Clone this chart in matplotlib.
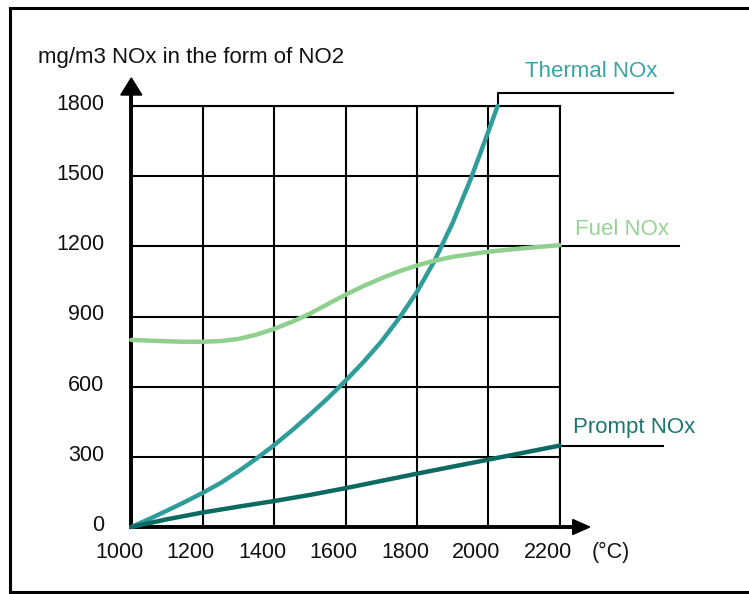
import matplotlib
matplotlib.use('Agg')
import matplotlib.pyplot as plt
import matplotlib.transforms as mtransforms
from matplotlib.lines import Line2D
from matplotlib.patches import Polygon

plt.rcParams['font.family'] = ['Liberation Sans', 'DejaVu Sans']

# ---------------- data ----------------
thermal_temps = [1000, 1050, 1100, 1150, 1200, 1250, 1300, 1350, 1400, 1450, 1500, 1550, 1600,
                 1650, 1700, 1750, 1800, 1850, 1900, 1950, 2000, 2026]
thermal_nox = [0, 34, 70, 107, 146, 188, 238, 292, 350, 413, 480, 550, 625,
               705, 792, 892, 1005, 1140, 1300, 1485, 1690, 1800]

fuel_temps = [1000, 1100, 1150, 1200, 1250, 1300, 1350, 1400, 1450, 1500, 1550, 1600, 1650, 1700,
              1750, 1800, 1850, 1900, 2000, 2100, 2200]
fuel_nox = [800, 794, 792, 792, 795, 804, 822, 847, 877, 912, 953, 993, 1030, 1063,
            1093, 1118, 1139, 1155, 1177, 1192, 1205]

prompt_temps = [1000, 1100, 1200, 1300, 1400, 1500, 1600, 1700, 1800, 1900, 2000, 2100, 2200]
prompt_nox = [0, 33, 62, 87, 111, 137, 166, 197, 228, 258, 288, 318, 348]

x_ticks = [1000, 1200, 1400, 1600, 1800, 2000, 2200]
x_labels = ['1000', '1200', '1400', '1600', '1800', '2000', '2200']
y_ticks = [0, 300, 600, 900, 1200, 1500, 1800]
y_labels = ['0', '300', '600', '900', '1200', '1500', '1800']

series_names = ['Thermal NOx', 'Fuel NOx', 'Prompt NOx']
title_text = 'mg/m3 NOx in the form of NO2'
unit_text = '(°C)'

# ---------------- style ----------------
c_thermal, c_fuel, c_prompt = '#2f9e9a', '#8fd08f', '#0c6a62'
t_thermal, t_fuel, t_prompt = '#3aa3a3', '#96d396', '#1b776e'

W, H = 749, 594
fig = plt.figure(figsize=(W / 100, H / 100), dpi=100)
ax = fig.add_axes([131.3 / W, 1 - 527 / H, (559.7 - 131.3) / W, (527 - 106) / H])
ax.set_xlim(1000, 2200)
ax.set_ylim(0, 1800)
ax.set_xticks(x_ticks)
ax.set_xticklabels(x_labels)
ax.set_yticks(y_ticks)
ax.set_yticklabels(y_labels)
ax.tick_params(length=0, labelsize=15.5, colors='#111111')
ax.tick_params(axis='x', pad=10.5)
ax.tick_params(axis='y', pad=19.5)
ax.grid(True, color='black', lw=1.5)
ax.set_axisbelow(True)
for s in ['top', 'right']:
    ax.spines[s].set_linewidth(1.5)
for s in ['left', 'bottom']:
    ax.spines[s].set_linewidth(2.8)

for lab in ax.get_xticklabels():
    lab.set_transform(lab.get_transform() + mtransforms.ScaledTranslation(-12 / 100, 0, fig.dpi_scale_trans))
for lab in ax.get_yticklabels():
    lab.set_transform(lab.get_transform() + mtransforms.ScaledTranslation(0, 4 / 100, fig.dpi_scale_trans))

# curves
lw_curve = 3.2
ax.plot(thermal_temps, thermal_nox, color=c_thermal, lw=lw_curve, solid_capstyle='round',
        solid_joinstyle='round', clip_on=False, zorder=3)
ax.plot(fuel_temps, fuel_nox, color=c_fuel, lw=lw_curve, solid_capstyle='round',
        solid_joinstyle='round', clip_on=False, zorder=3)
ax.plot(prompt_temps, prompt_nox, color=c_prompt, lw=lw_curve, solid_capstyle='round',
        solid_joinstyle='round', clip_on=False, zorder=3)

# leader lines
ax.plot([thermal_temps[-1], thermal_temps[-1], 2517], [thermal_nox[-1], 1856, 1856],
        color='black', lw=1.5, clip_on=False, zorder=2)
ax.plot([fuel_temps[-1], 2534], [1200, 1200], color='black', lw=1.5, clip_on=False, zorder=2)
ax.plot([prompt_temps[-1], 2489], [prompt_nox[-1], prompt_nox[-1]], color='black', lw=1.5, clip_on=False, zorder=2)

# labels
ax.text(2103, 1925, series_names[0], fontsize=16, color=t_thermal, va='baseline', ha='left', clip_on=False)
ax.text(2243, 1248, series_names[1], fontsize=16, color=t_fuel, va='baseline', ha='left', clip_on=False)
ax.text(2237, 400, series_names[2], fontsize=16, color=t_prompt, va='baseline', ha='left', clip_on=False)

# axis arrows
ty = fig.dpi_scale_trans + mtransforms.ScaledTranslation(1000, 1800, ax.transData)
fig.add_artist(Polygon([(-10.5 / 100, 11 / 100), (10.5 / 100, 11 / 100), (0, 28 / 100)],
                       closed=True, color='black', transform=ty))
fig.add_artist(Line2D([0, 0], [0, 12 / 100], color='black', lw=2.8, transform=ty))
tx = fig.dpi_scale_trans + mtransforms.ScaledTranslation(2200, 0, ax.transData)
fig.add_artist(Polygon([(13 / 100, 7.5 / 100), (13 / 100, -7.5 / 100), (30 / 100, 0)],
                       closed=True, color='black', transform=tx))
fig.add_artist(Line2D([0, 14 / 100], [0, 0], color='black', lw=2.8, transform=tx))

# texts
fig.text(38 / W, 1 - 62.7 / H, title_text, fontsize=16, va='baseline', ha='left', color='#111111')
fig.text(591.7 / W, 1 - 558 / H, unit_text, fontsize=15.5, va='baseline', ha='left', color='#111111')

# border
fig.add_artist(Line2D([10 / W, 10 / W], [1 - 8 / H, 1 - 591.5 / H], transform=fig.transFigure, color='black', lw=2.2))
fig.add_artist(Line2D([10 / W, 1], [1 - 8 / H, 1 - 8 / H], transform=fig.transFigure, color='black', lw=2.2))
fig.add_artist(Line2D([10 / W, 1], [1 - 591.5 / H, 1 - 591.5 / H], transform=fig.transFigure, color='black', lw=2.2))

fig.savefig('out.png', dpi=100)
